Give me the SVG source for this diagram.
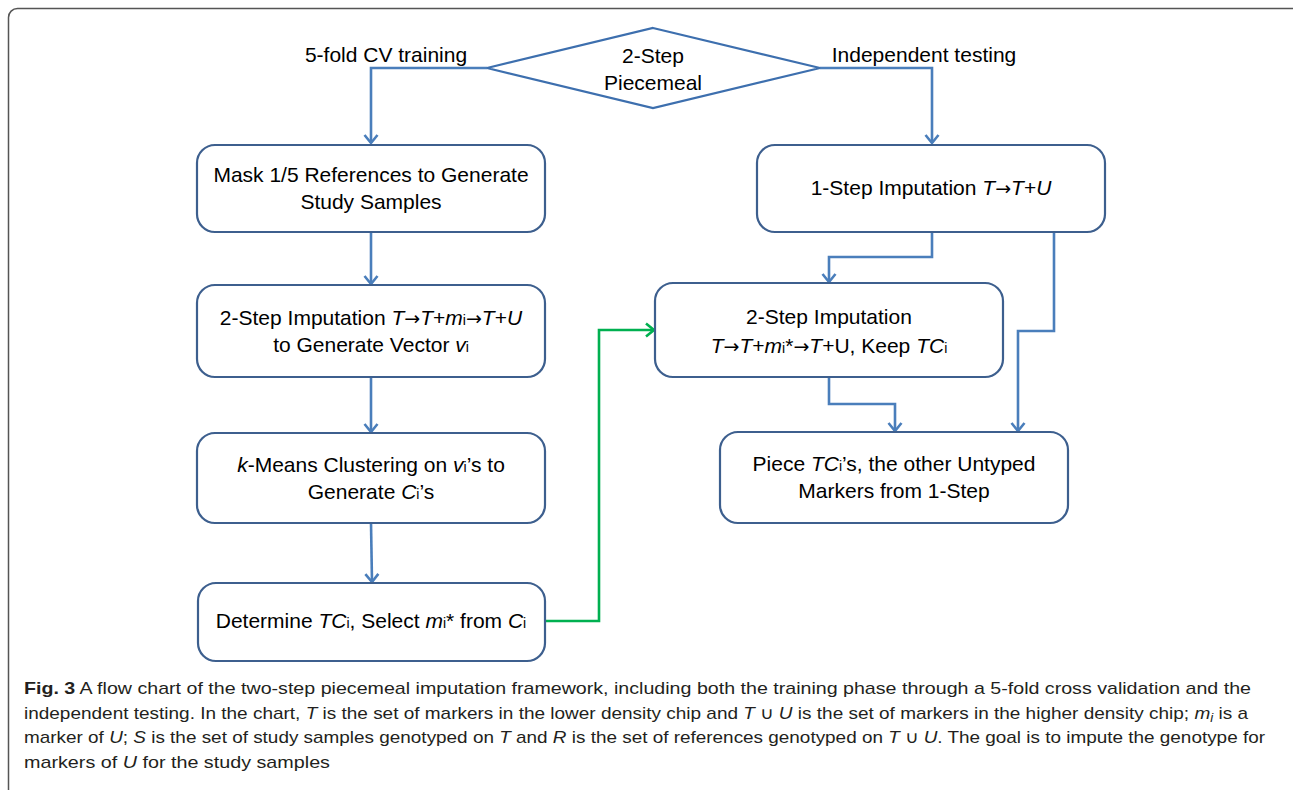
<svg xmlns="http://www.w3.org/2000/svg" width="1293" height="790" viewBox="0 0 1293 790">
<style>
.box{fill:#fff;stroke:#3D5F8E;stroke-width:2.2}
.t{font-family:"Liberation Sans",Arial,sans-serif;font-size:21px;fill:#000;text-anchor:middle}
.i{font-style:italic}
.s{font-size:14px}
.ar{font-family:"DejaVu Sans",sans-serif;font-size:19px}
.c{fill:none;stroke:#4A7EBB;stroke-width:2.6}
.g{fill:none;stroke:#00B050;stroke-width:2.6}
.cap{font-family:"Liberation Sans",Arial,sans-serif;font-size:17px;fill:#231F20}
</style>
<defs>
<marker id="ab" markerWidth="16" markerHeight="16" refX="10" refY="8" orient="auto" markerUnits="userSpaceOnUse">
<path d="M2,1.5 L10,8 L2,14.5" fill="none" stroke="#4A7EBB" stroke-width="2.6"/>
</marker>
<marker id="ag" markerWidth="16" markerHeight="16" refX="10" refY="8" orient="auto" markerUnits="userSpaceOnUse">
<path d="M2,1.5 L10,8 L2,14.5" fill="none" stroke="#00B050" stroke-width="2.6"/>
</marker>
</defs>
<rect width="1293" height="790" fill="#fff"/>
<rect x="8.5" y="8.5" width="1300" height="800" rx="9" fill="none" stroke="#555" stroke-width="1.5"/>

<g id="connectors">
<path class="c" d="M487,68 H371 V143" marker-end="url(#ab)"/>
<path class="c" d="M820,68 H932 V143" marker-end="url(#ab)"/>
<path class="c" d="M371,232 V284" marker-end="url(#ab)"/>
<path class="c" d="M371,377 V432" marker-end="url(#ab)"/>
<path class="c" d="M371,523 L372,582" marker-end="url(#ab)"/>
<path class="c" d="M932,232 V257 H829 V282" marker-end="url(#ab)"/>
<path class="c" d="M1054,232 V331 H1018 V431" marker-end="url(#ab)"/>
<path class="c" d="M829,377 V404 H895 V431" marker-end="url(#ab)"/>
<path class="g" d="M545,621 H599 V330 H654" marker-end="url(#ag)"/>
</g>

<g id="start">
<polygon points="653,28 820,68 653,108 487,68" fill="#fff" stroke="#3D6FAE" stroke-width="2.2"/>
<text class="t" x="653" y="63">2-Step</text>
<text class="t" x="653" y="90">Piecemeal</text>
</g>
<g id="label-train"><text class="t" x="386" y="62">5-fold CV training</text></g>
<g id="label-test"><text class="t" x="924" y="62">Independent testing</text></g>

<g id="mask">
<rect class="box" x="197" y="145" width="348" height="87" rx="18"/>
<text class="t" x="371" y="182">Mask 1/5 References to Generate</text>
<text class="t" x="371" y="209">Study Samples</text>
</g>
<g id="twostep-train">
<rect class="box" x="197" y="285" width="348" height="92" rx="18"/>
<text class="t" x="371" y="325">2-Step Imputation <tspan class="i">T</tspan><tspan class="ar">→</tspan><tspan class="i">T</tspan>+<tspan class="i">m</tspan><tspan class="s">i</tspan><tspan class="ar">→</tspan><tspan class="i">T</tspan>+<tspan class="i">U</tspan></text>
<text class="t" x="371" y="352">to Generate Vector <tspan class="i">v</tspan><tspan class="s">i</tspan></text>
</g>
<g id="kmeans">
<rect class="box" x="197" y="433" width="348" height="90" rx="18"/>
<text class="t" x="371" y="472"><tspan class="i">k</tspan>-Means Clustering on <tspan class="i">v</tspan><tspan class="s">i</tspan>’s to</text>
<text class="t" x="371" y="499">Generate <tspan class="i">C</tspan><tspan class="s">i</tspan>’s</text>
</g>
<g id="determine">
<rect class="box" x="198" y="583" width="347" height="78" rx="18"/>
<text class="t" x="371" y="628">Determine <tspan class="i">TC</tspan><tspan class="s">i</tspan>, Select <tspan class="i">m</tspan><tspan class="s">i</tspan>*  from <tspan class="i">C</tspan><tspan class="s">i</tspan></text>
</g>

<g id="onestep">
<rect class="box" x="757" y="145" width="348" height="87" rx="18"/>
<text class="t" x="931" y="195">1-Step Imputation <tspan class="i">T</tspan><tspan class="ar">→</tspan><tspan class="i">T</tspan>+<tspan class="i">U</tspan></text>
</g>
<g id="twostep-test">
<rect class="box" x="655" y="283" width="348" height="94" rx="18"/>
<text class="t" x="829" y="324">2-Step Imputation</text>
<text class="t" x="829" y="353"><tspan class="i">T</tspan><tspan class="ar">→</tspan><tspan class="i">T</tspan>+<tspan class="i">m</tspan><tspan class="s">i</tspan>*<tspan class="ar">→</tspan><tspan class="i">T</tspan>+U, Keep <tspan class="i">TC</tspan><tspan class="s">i</tspan></text>
</g>
<g id="piece">
<rect class="box" x="720" y="432" width="348" height="91" rx="18"/>
<text class="t" x="894" y="471">Piece <tspan class="i">TC</tspan><tspan class="s">i</tspan>’s, the other Untyped</text>
<text class="t" x="894" y="498">Markers from 1-Step</text>
</g>

<g id="caption">
<text class="cap" x="24" y="694" textLength="1227" lengthAdjust="spacingAndGlyphs"><tspan font-weight="bold">Fig. 3</tspan> A flow chart of the two-step piecemeal imputation framework, including both the training phase through a 5-fold cross validation and the</text>
<text class="cap" x="24" y="719" textLength="1224" lengthAdjust="spacingAndGlyphs">independent testing. In the chart, <tspan class="i">T</tspan> is the set of markers in the lower density chip and <tspan class="i">T</tspan> ∪ <tspan class="i">U</tspan> is the set of markers in the higher density chip; <tspan class="i">m<tspan font-size="12px" dy="3">i</tspan></tspan><tspan dy="-3"> is a</tspan></text>
<text class="cap" x="24" y="743" textLength="1241" lengthAdjust="spacingAndGlyphs">marker of <tspan class="i">U</tspan>; <tspan class="i">S</tspan> is the set of study samples genotyped on <tspan class="i">T</tspan> and <tspan class="i">R</tspan> is the set of references genotyped on <tspan class="i">T</tspan> ∪ <tspan class="i">U</tspan>. The goal is to impute the genotype for</text>
<text class="cap" x="24" y="768" textLength="306" lengthAdjust="spacingAndGlyphs">markers of <tspan class="i">U</tspan> for the study samples</text>
</g>
</svg>
